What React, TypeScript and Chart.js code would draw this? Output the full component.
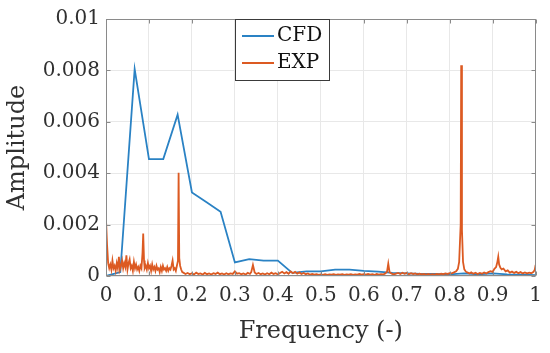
import React, { useEffect, useRef } from 'react';
import { Chart, registerables } from 'chart.js';

Chart.register(...registerables);

const xTickLabels = ['0', '0.1', '0.2', '0.3', '0.4', '0.5', '0.6', '0.7', '0.8', '0.9', '1'];
const yTickLabels = ['0', '0.002', '0.004', '0.006', '0.008', '0.01'];
const seriesNames = ['CFD', 'EXP'];

const cfdFreq = [0, 0.0333, 0.0667, 0.1, 0.1333, 0.1667, 0.2, 0.2333, 0.2667, 0.3, 0.3333, 0.3667, 0.4, 0.4333, 0.4667, 0.5, 0.5333, 0.5667, 0.6, 0.6333, 0.6667, 0.7, 0.7333, 0.7667, 0.8, 0.8333, 0.8667, 0.9, 0.9333, 0.9667, 1];
const cfdAmp = [0, 1.5e-4, 80.5e-4, 45.5e-4, 45.5e-4, 62.8e-4, 32.5e-4, 28.8e-4, 25e-4, 5.3e-4, 6.6e-4, 6e-4, 6e-4, 1.2e-4, 1.8e-4, 1.8e-4, 2.5e-4, 2.5e-4, 2e-4, 1.7e-4, 1.2e-4, 1e-4, 0.8e-4, 0.8e-4, 0.6e-4, 1e-4, 0.6e-4, 1e-4, 0.6e-4, 0.5e-4, 0.3e-4];

// EXP spectrum, [frequency, amplitude] pairs
const expLowBand: [number, number][] = [
  [0, 22e-4], [0.0025, 12e-4], [0.005, 5e-4], [0.0075, 3e-4], [0.01, 4.5e-4], [0.0125, 2.5e-4],
  [0.015, 6e-4], [0.0175, 3e-4], [0.02, 4e-4], [0.0225, 2e-4], [0.025, 5e-4], [0.0275, 3e-4],
  [0.03, 7.5e-4], [0.0325, 2.5e-4], [0.035, 4e-4], [0.0375, 6e-4], [0.04, 3e-4], [0.0425, 5e-4],
  [0.045, 3.5e-4], [0.0475, 8e-4], [0.05, 2.5e-4], [0.0525, 5e-4], [0.055, 6.5e-4], [0.0575, 3e-4],
  [0.06, 4e-4], [0.0625, 2e-4], [0.065, 5.5e-4], [0.0675, 3e-4], [0.07, 4.5e-4], [0.0725, 2.5e-4],
  [0.075, 3.5e-4], [0.0775, 2e-4], [0.08, 4e-4], [0.0825, 3e-4], [0.085, 9e-4], [0.0866, 16.5e-4],
  [0.0885, 6e-4], [0.09, 3e-4], [0.0925, 4e-4], [0.095, 2.5e-4], [0.0975, 5e-4], [0.1, 3e-4],
  [0.1025, 4e-4], [0.105, 2e-4], [0.1075, 4.5e-4], [0.11, 2.5e-4], [0.1125, 3.5e-4], [0.115, 2e-4],
  [0.1175, 4e-4], [0.12, 2.5e-4], [0.1225, 3e-4], [0.125, 1.5e-4], [0.1275, 3.5e-4], [0.13, 2e-4],
  [0.1325, 4e-4], [0.135, 2.5e-4], [0.1375, 3e-4], [0.14, 2e-4], [0.1425, 3.5e-4], [0.145, 2e-4],
  [0.1475, 3e-4], [0.15, 2.5e-4], [0.1525, 4e-4], [0.155, 6e-4], [0.1575, 2.5e-4], [0.16, 3e-4],
  [0.1625, 2e-4], [0.165, 4e-4], [0.1675, 6e-4], [0.169, 40.2e-4], [0.1705, 7e-4], [0.1725, 4e-4],
  [0.175, 2.5e-4], [0.1775, 1.5e-4],
];
const expMidBand: [number, number][] = [
  [0.18, 1.3e-4], [0.185, 0.8e-4], [0.19, 1.2e-4], [0.195, 0.7e-4], [0.2, 1.1e-4], [0.205, 0.6e-4],
  [0.21, 1.3e-4], [0.215, 0.8e-4], [0.22, 1.0e-4], [0.225, 0.6e-4], [0.23, 1.2e-4], [0.235, 0.7e-4],
  [0.24, 1.0e-4], [0.245, 0.6e-4], [0.25, 1.1e-4], [0.255, 0.8e-4], [0.26, 1.3e-4], [0.265, 0.7e-4],
  [0.27, 1.0e-4], [0.275, 0.6e-4], [0.28, 1.1e-4], [0.285, 0.7e-4], [0.29, 1.0e-4], [0.295, 0.8e-4],
  [0.3, 1.8e-4], [0.305, 0.9e-4], [0.31, 1.1e-4], [0.315, 0.7e-4], [0.32, 1.0e-4], [0.325, 0.6e-4],
  [0.33, 1.2e-4], [0.335, 0.8e-4], [0.338, 1.5e-4], [0.342, 4.3e-4], [0.346, 1.4e-4], [0.35, 0.8e-4],
  [0.355, 1.2e-4], [0.36, 0.7e-4], [0.365, 1.0e-4], [0.37, 0.6e-4], [0.375, 1.1e-4], [0.38, 0.7e-4],
  [0.385, 1.3e-4], [0.39, 0.8e-4], [0.395, 1.1e-4], [0.4, 0.6e-4], [0.405, 1.2e-4], [0.41, 1.6e-4],
  [0.415, 1.0e-4], [0.42, 1.5e-4], [0.425, 0.9e-4], [0.43, 1.8e-4], [0.435, 1.1e-4], [0.44, 1.6e-4],
  [0.445, 0.9e-4], [0.45, 1.4e-4], [0.455, 0.8e-4], [0.46, 1.2e-4], [0.465, 0.7e-4], [0.47, 1.0e-4],
  [0.475, 0.5e-4], [0.48, 0.8e-4], [0.485, 0.5e-4], [0.49, 0.7e-4], [0.495, 0.4e-4], [0.5, 0.6e-4],
  [0.505, 0.4e-4], [0.51, 0.7e-4], [0.515, 0.4e-4], [0.52, 0.6e-4], [0.525, 0.5e-4], [0.53, 0.7e-4],
  [0.535, 0.4e-4], [0.54, 0.6e-4], [0.545, 0.5e-4], [0.55, 0.7e-4], [0.555, 0.4e-4], [0.56, 0.6e-4],
  [0.565, 0.5e-4], [0.57, 0.7e-4], [0.575, 0.4e-4], [0.58, 0.6e-4], [0.585, 0.5e-4], [0.59, 0.8e-4],
  [0.595, 0.5e-4],
];
const expHighBand: [number, number][] = [
  [0.6, 0.7e-4], [0.605, 0.5e-4], [0.61, 0.8e-4], [0.615, 0.5e-4], [0.62, 0.7e-4], [0.625, 0.4e-4],
  [0.63, 0.8e-4], [0.635, 0.5e-4], [0.64, 0.7e-4], [0.645, 0.6e-4], [0.65, 1.0e-4], [0.654, 1.6e-4],
  [0.657, 4.8e-4], [0.66, 1.5e-4], [0.665, 0.9e-4], [0.67, 0.6e-4], [0.675, 0.9e-4], [0.68, 1.2e-4],
  [0.685, 0.8e-4], [0.69, 1.3e-4], [0.695, 0.9e-4], [0.7, 1.2e-4], [0.705, 0.7e-4], [0.71, 1.1e-4],
  [0.715, 0.8e-4], [0.72, 1.0e-4], [0.725, 0.6e-4], [0.73, 0.9e-4], [0.735, 0.6e-4], [0.74, 0.8e-4],
  [0.745, 0.5e-4], [0.75, 0.8e-4], [0.755, 0.5e-4], [0.76, 0.7e-4], [0.765, 0.5e-4], [0.77, 0.8e-4],
  [0.775, 0.6e-4], [0.78, 0.9e-4], [0.785, 0.7e-4], [0.79, 1.0e-4], [0.795, 0.8e-4], [0.8, 1.1e-4],
  [0.805, 1.0e-4], [0.81, 1.4e-4], [0.815, 1.8e-4], [0.819, 2.8e-4], [0.822, 5.5e-4], [0.8255, 20e-4],
  [0.8267, 82e-4], [0.8285, 18e-4], [0.831, 5.5e-4], [0.834, 2.6e-4], [0.838, 1.6e-4], [0.842, 1.3e-4],
  [0.846, 1.0e-4], [0.85, 1.4e-4], [0.855, 0.9e-4], [0.86, 1.3e-4], [0.865, 0.8e-4], [0.87, 1.2e-4],
  [0.875, 0.9e-4], [0.88, 1.4e-4], [0.885, 1.0e-4], [0.89, 1.5e-4], [0.895, 1.9e-4], [0.9, 1.6e-4],
  [0.904, 2.8e-4], [0.908, 3.5e-4], [0.911, 5.5e-4], [0.913, 7.5e-4], [0.915, 4.5e-4], [0.918, 3.2e-4],
  [0.921, 2.6e-4], [0.925, 2.9e-4], [0.93, 1.8e-4], [0.935, 2.2e-4], [0.94, 1.3e-4], [0.945, 1.7e-4],
  [0.95, 1.2e-4], [0.955, 1.6e-4], [0.96, 1.1e-4], [0.965, 1.5e-4], [0.97, 1.0e-4], [0.975, 1.4e-4],
  [0.98, 1.0e-4], [0.985, 1.3e-4], [0.99, 1.1e-4], [0.995, 1.6e-4], [0.998, 2.5e-4], [1.0, 4.3e-4],
];

const CFD_COLOR = '#2a82c4';
const EXP_COLOR = '#dc5a22';
const FONT = 'DejaVu Serif';
const TEXT_COLOR = '#303030';

const framePlugin = {
  id: 'matlabFrame',
  afterDatasetsDraw(chart: any) {
    const { ctx, chartArea } = chart;
    const { left, right, top, bottom } = chartArea;
    const xs = chart.scales.x;
    const ys = chart.scales.y;
    ctx.save();
    ctx.strokeStyle = '#8a8a8a';
    ctx.lineWidth = 1;
    const L = Math.round(left) + 0.5;
    const R = Math.round(right) - 0.5;
    const T = Math.round(top) + 0.5;
    const B = Math.round(bottom) - 0.5;
    ctx.strokeRect(L, T, R - L, B - T);
    ctx.beginPath();
    const tl = 4;
    xs.ticks.forEach((t: any) => {
      const px = Math.round(xs.getPixelForValue(t.value)) + 0.5;
      ctx.moveTo(px, B); ctx.lineTo(px, B - tl);
      ctx.moveTo(px, T); ctx.lineTo(px, T + tl);
    });
    ys.ticks.forEach((t: any) => {
      const py = Math.round(ys.getPixelForValue(t.value)) + 0.5;
      ctx.moveTo(L, py); ctx.lineTo(L + tl, py);
      ctx.moveTo(R, py); ctx.lineTo(R - tl, py);
    });
    ctx.stroke();

    // legend box
    const bx = 235.5, by = 19.5, bw = 94, bh = 61;
    ctx.fillStyle = '#ffffff';
    ctx.fillRect(bx, by, bw, bh);
    ctx.strokeStyle = '#3a3a3a';
    ctx.strokeRect(bx, by, bw, bh);
    const rows = [
      { name: seriesNames[0], color: CFD_COLOR, y: 36 },
      { name: seriesNames[1], color: EXP_COLOR, y: 63 },
    ];
    rows.forEach((r) => {
      ctx.strokeStyle = r.color;
      ctx.lineWidth = 2;
      ctx.beginPath();
      ctx.moveTo(242, r.y);
      ctx.lineTo(274, r.y);
      ctx.stroke();
      ctx.fillStyle = '#111111';
      ctx.font = `20px "${FONT}"`;
      ctx.textAlign = 'left';
      ctx.textBaseline = 'middle';
      ctx.fillText(r.name, 277, r.y);
    });
    ctx.restore();
  },
};

export default function App() {
  const ref = useRef<HTMLCanvasElement | null>(null);

  useEffect(() => {
    if (!ref.current) return;
    const expData = [...expLowBand, ...expMidBand, ...expHighBand].map(([x, y]) => ({ x, y }));
    const cfdData = cfdFreq.map((x, i) => ({ x, y: cfdAmp[i] }));
    const chart = new Chart(ref.current, {
      type: 'line',
      data: {
        datasets: [
          {
            label: seriesNames[1],
            data: expData,
            borderColor: EXP_COLOR,
            borderWidth: 1.8,
            pointRadius: 0,
            tension: 0,
            order: 0,
          },
          {
            label: seriesNames[0],
            data: cfdData,
            borderColor: CFD_COLOR,
            borderWidth: 1.8,
            pointRadius: 0,
            tension: 0,
            order: 1,
          },
        ],
      },
      options: {
        animation: false,
        responsive: false,
        layout: { padding: { top: 19, right: 13, left: 0, bottom: 0 } },
        plugins: { legend: { display: false }, tooltip: { enabled: false } },
        scales: {
          x: {
            type: 'linear',
            min: 0,
            max: 1,
            ticks: {
              stepSize: 0.1,
              padding: 8,
              color: TEXT_COLOR,
              font: { family: FONT, size: 20 },
              maxRotation: 0,
              callback: (_v: any, i: number) => xTickLabels[i],
            },
            grid: { color: '#e8e8e8', drawTicks: false },
            border: { display: false },
            title: {
              display: true,
              text: 'Frequency (-)',
              color: TEXT_COLOR,
              font: { family: FONT, size: 24 },
              padding: { top: 0, bottom: 7 },
            },
            afterFit: (s: any) => { s.height = 77; },
          },
          y: {
            type: 'linear',
            min: 0,
            max: 0.01,
            ticks: {
              stepSize: 0.002,
              padding: 6,
              color: TEXT_COLOR,
              font: { family: FONT, size: 20 },
              callback: (_v: any, i: number) => yTickLabels[i],
            },
            grid: { color: '#e8e8e8', drawTicks: false },
            border: { display: false },
            title: {
              display: true,
              text: 'Amplitude',
              color: TEXT_COLOR,
              font: { family: FONT, size: 24 },
              padding: { top: 3, bottom: 0 },
            },
            afterFit: (s: any) => { s.width = 106; },
          },
        },
      },
      plugins: [framePlugin],
    });
    return () => chart.destroy();
  }, []);

  return (
    <div style={{ position: 'absolute', left: 0, top: 0, width: 550, height: 353, background: '#fff' }}>
      <canvas ref={ref} width={550} height={353} style={{ width: 550, height: 353, display: 'block' }} />
    </div>
  );
}
